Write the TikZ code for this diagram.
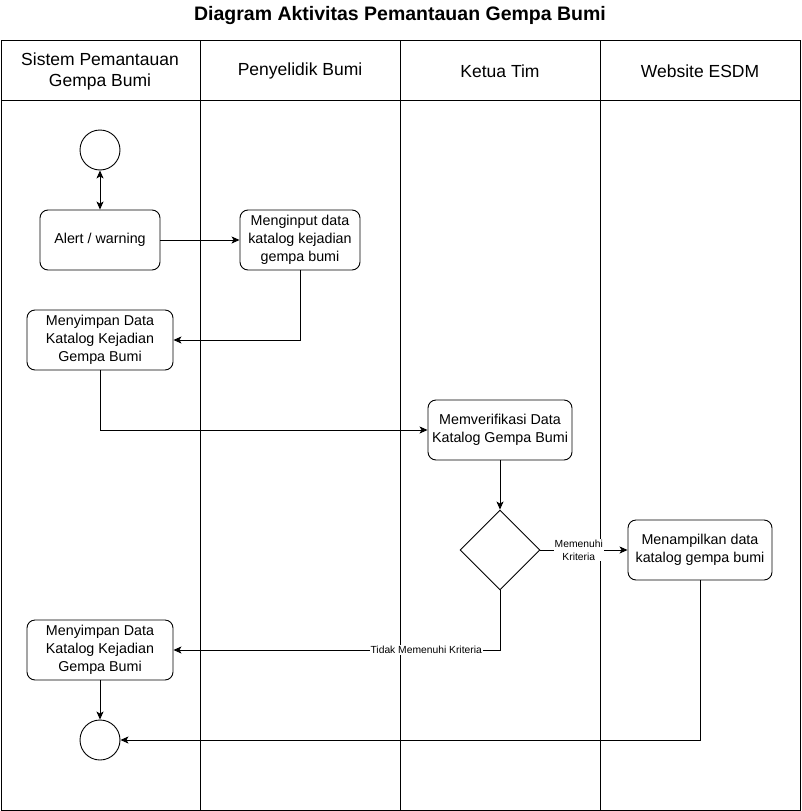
\documentclass[tikz,border=0pt]{standalone}
\usepackage{fontspec}
\setmainfont{Liberation Sans}
\usetikzlibrary{shapes.geometric,arrows.meta}
\begin{document}
\begin{tikzpicture}[x=1pt,y=-1pt,
  lane/.style={draw=black,line width=1pt},
  head/.style={font=\fontsize{17.5}{21}\selectfont,align=center},
  act/.style={draw=black,line width=0.9pt,rounded corners=8pt,align=center,inner sep=0pt,font=\fontsize{14.3}{18}\selectfont},
  circ/.style={draw=black,line width=0.9pt,circle,minimum size=40pt,inner sep=0pt},
  dia/.style={draw=black,line width=0.9pt,diamond,minimum width=80pt,minimum height=80pt,inner sep=0pt},
  arr/.style={draw=black,line width=0.9pt,-{Stealth[length=8pt,width=7pt,inset=2pt]}},
  lbl/.style={fill=white,inner sep=1pt,align=center,font=\fontsize{10.3}{13}\selectfont}]
\useasboundingbox (0,0) rectangle (801,811);
\fill[white] (0,0) rectangle (801,811);
% title
\node[font=\bfseries\fontsize{19.5}{22}\selectfont] (title) at (400,16) {Diagram Aktivitas Pemantauan Gempa Bumi};
% lanes
\draw[lane] (1,40) rectangle (800,810);
\draw[lane] (1,100) -- (800,100);
\draw[lane] (200,40) -- (200,810);
\draw[lane] (400,40) -- (400,810);
\draw[lane] (600,40) -- (600,810);
\node[head] (h1) at (100,71) {Sistem Pemantauan\\Gempa Bumi};
\node[head] (h2) at (300,71) {Penyelidik Bumi};
\node[head] (h3) at (500,71) {Ketua Tim};
\node[head] (h4) at (700,71) {Website ESDM};
% nodes
\node[circ] (start) at (100,150) {};
\node[act,minimum width=120pt,minimum height=60pt] (alert) at (100,240) {Alert / warning};
\node[act,minimum width=120pt,minimum height=60pt] (input) at (300,240) {Menginput data\\katalog kejadian\\gempa bumi};
\node[act,minimum width=146pt,minimum height=60pt] (simpan1) at (100,340) {Menyimpan Data\\Katalog Kejadian\\Gempa Bumi};
\node[act,minimum width=144pt,minimum height=60pt] (verif) at (500,430) {Memverifikasi Data\\Katalog Gempa Bumi};
\node[dia] (dec) at (500,550) {};
\node[act,minimum width=144pt,minimum height=60pt] (tampil) at (700,550) {Menampilkan data\\katalog gempa bumi};
\node[act,minimum width=146pt,minimum height=60pt] (simpan2) at (100,650) {Menyimpan Data\\Katalog Kejadian\\Gempa Bumi};
\node[circ] (end) at (100,740) {};
% connectors
\draw[arr,{Stealth[length=8pt,width=7pt,inset=2pt]}-{Stealth[length=8pt,width=7pt,inset=2pt]}] (start) -- (alert);
\draw[arr] (alert) -- (input);
\draw[arr] (input.south) |- (simpan1.east);
\draw[arr] (simpan1.south) |- (verif.west);
\draw[arr] (verif) -- (dec);
\draw[arr] (dec.east) -- node[lbl,pos=0.44]{Memenuhi\\Kriteria} (tampil.west);
\draw[arr] (dec.south) |- node[lbl,pos=0.613]{Tidak Memenuhi Kriteria} (simpan2.east);
\draw[arr] (simpan2) -- (end);
\draw[arr] (tampil.south) |- (end.east);
\end{tikzpicture}
\end{document}
